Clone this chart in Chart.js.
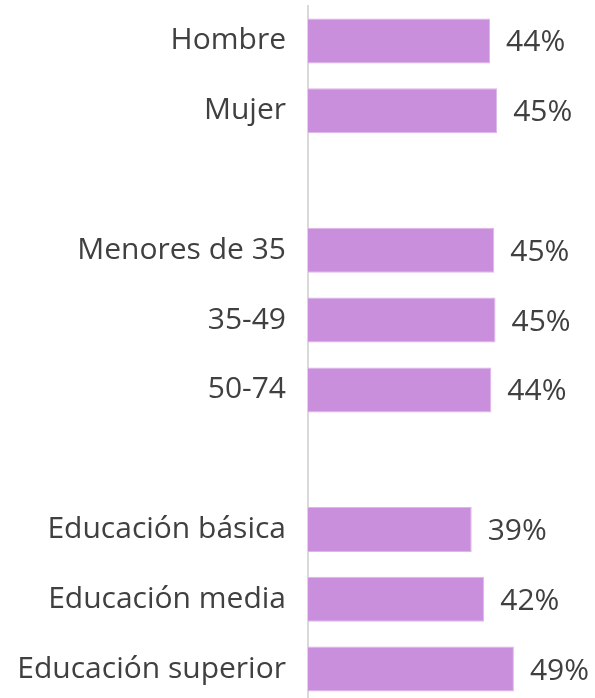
<!DOCTYPE html>
<html>
<head>
<meta charset="utf-8">
<script src="https://cdn.jsdelivr.net/npm/chart.js@4/dist/chart.umd.min.js"></script>
<style>
  html, body { margin: 0; padding: 0; background: #fff; overflow: hidden; }
  #wrap { width: 595px; height: 704px; }
</style>
</head>
<body>
<div id="wrap"><canvas id="chart"></canvas></div>
<script>
// Categories (empty strings are the gaps between groups)
const categories = [
  'Hombre', 'Mujer', '',
  'Menores de 35', '35-49', '50-74', '',
  'Educación básica', 'Educación media', 'Educación superior'
];
// Share per category, in percent
const values = [43.6, 45.3, null, 44.6, 44.9, 43.9, null, 39.2, 42.2, 49.3];

const textColor = '#404040';
const fontFamily = '"Open Sans", "Noto Sans", sans-serif';

// Value labels at the end of each bar
const valueLabels = {
  id: 'valueLabels',
  afterDatasetsDraw(chart) {
    const ctx = chart.ctx;
    const meta = chart.getDatasetMeta(0);
    ctx.save();
    ctx.font = '30px ' + fontFamily;
    ctx.fillStyle = textColor;
    ctx.textAlign = 'left';
    ctx.textBaseline = 'middle';
    meta.data.forEach((bar, i) => {
      const v = values[i];
      if (v === null) return;
      ctx.fillText(Math.round(v) + '%', bar.x + 16, bar.y + 2);
    });
    ctx.restore();
  }
};

new Chart(document.getElementById('chart'), {
  type: 'bar',
  data: {
    labels: categories,
    datasets: [{
      data: values,
      backgroundColor: '#CA8FDC',
      borderColor: '#DDB6E8',
      borderWidth: 1,
      barPercentage: 0.645,
      categoryPercentage: 1
    }]
  },
  options: {
    indexAxis: 'y',
    responsive: true,
    maintainAspectRatio: false,
    animation: false,
    layout: { padding: { top: 6, right: 3, bottom: 0, left: 0 } },
    plugins: {
      legend: { display: false },
      tooltip: { enabled: false }
    },
    scales: {
      x: {
        display: false,
        min: 0,
        max: 68
      },
      y: {
        afterFit: scale => {
          scale.width = 308;
          scale.paddingTop = 0;
          scale.paddingBottom = 0;
        },
        grid: { display: true, drawOnChartArea: false, drawTicks: false },
        border: { display: true, color: '#D9D9D9', width: 2 },
        ticks: {
          padding: 22,
          color: textColor,
          font: { family: fontFamily, size: 30 }
        }
      }
    }
  },
  plugins: [valueLabels]
});
</script>
</body>
</html>
